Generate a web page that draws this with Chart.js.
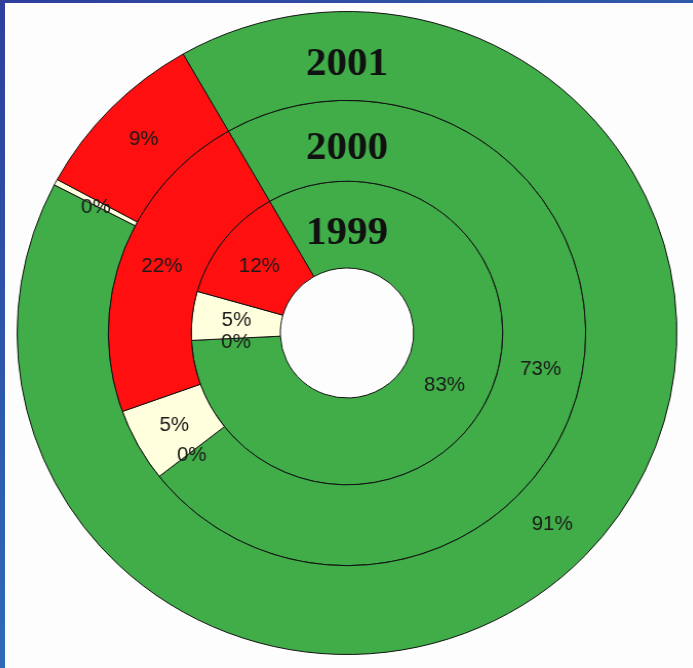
<!DOCTYPE html>
<html>
<head>
<meta charset="utf-8">
<script src="https://cdn.jsdelivr.net/npm/chart.js@4/dist/chart.umd.min.js"></script>
<style>
  html, body { margin: 0; padding: 0; background: #fdfdfd; }
  body { width: 693px; height: 668px; position: relative; overflow: hidden; }
  .frame-left { position: absolute; left: 0; top: 0; width: 5px; height: 668px; background: linear-gradient(#2e3f9c, #2d6bb8); }
  .frame-top { position: absolute; left: 0; top: 0; width: 693px; height: 3px; background: linear-gradient(90deg, #2e3f9c, #2f5bab); }
  #wrap { position: absolute; left: 17px; top: 3px; width: 660px; height: 660px; transform: scaleX(1.026); transform-origin: 330px 330px; }
</style>
</head>
<body>
<div class="frame-left"></div>
<div class="frame-top"></div>
<div id="wrap"><canvas id="rings"></canvas></div>
<script>
// Categories, in drawing order (clockwise from the red/green edge)
const categories = ["Green", "Other", "Cream", "Red"];
const colors = ["#40ad48", "#ffffdd", "#ffffdd", "#ff0f0f"];

// Percent shares per year (outer ring first)
const years = ["2001", "2000", "1999"];
const share2001 = [90.9, null, 0.3, 8.8];
const share2000 = [72.7, 0, 5.1, 22.2];
const share1999 = [82.5, 0, 5.2, 12.3];
const ringWeights = [89, 81, 87];

// Draws the % labels in each slice and the year on top of each ring
const ringLabels = {
  id: "ringLabels",
  afterDatasetsDraw(chart) {
    const ctx = chart.ctx;
    ctx.save();
    ctx.textAlign = "center";
    ctx.textBaseline = "middle";
    chart.data.datasets.forEach((ds, i) => {
      const meta = chart.getDatasetMeta(i);
      meta.data.forEach((arc, j) => {
        const v = ds.data[j];
        if (v === null || v === undefined) return;
        const p = arc.getProps(["x", "y", "startAngle", "endAngle", "innerRadius", "outerRadius"], true);
        const mid = (p.startAngle + p.endAngle) / 2;
        const r = (p.innerRadius + p.outerRadius) / 2;
        // tiny slices: push the text a bit down so it clears the neighbour
        const dy = Math.round(v) === 0 ? 4 : 0;
        ctx.font = "20px 'Liberation Sans', Arial, sans-serif";
        ctx.fillStyle = "#1a1a1a";
        ctx.fillText(Math.round(v) + "%", p.x + Math.cos(mid) * r, p.y + Math.sin(mid) * r + dy);
      });
      // year label at the top of the ring
      const first = meta.data[0].getProps(["x", "y", "innerRadius", "outerRadius"], true);
      const r = first.innerRadius + (first.outerRadius - first.innerRadius) * 0.4;
      ctx.font = "bold 40px 'Liberation Serif', 'Times New Roman', serif";
      ctx.fillStyle = "#111";
      ctx.fillText(ds.label, first.x, first.y - r);
    });
    ctx.restore();
  }
};

new Chart(document.getElementById("rings"), {
  type: "doughnut",
  data: {
    labels: categories,
    datasets: [
      { label: years[0], data: share2001, weight: ringWeights[0] },
      { label: years[1], data: share2000, weight: ringWeights[1] },
      { label: years[2], data: share1999, weight: ringWeights[2] }
    ].map((d) => ({ ...d, backgroundColor: colors, borderColor: "#111", borderWidth: 1 }))
  },
  options: {
    responsive: true,
    maintainAspectRatio: false,
    animation: false,
    rotation: -29.8,
    cutout: 65,
    layout: { padding: 8 },
    plugins: {
      legend: { display: false },
      tooltip: { enabled: false }
    }
  },
  plugins: [ringLabels]
});
</script>
</body>
</html>
